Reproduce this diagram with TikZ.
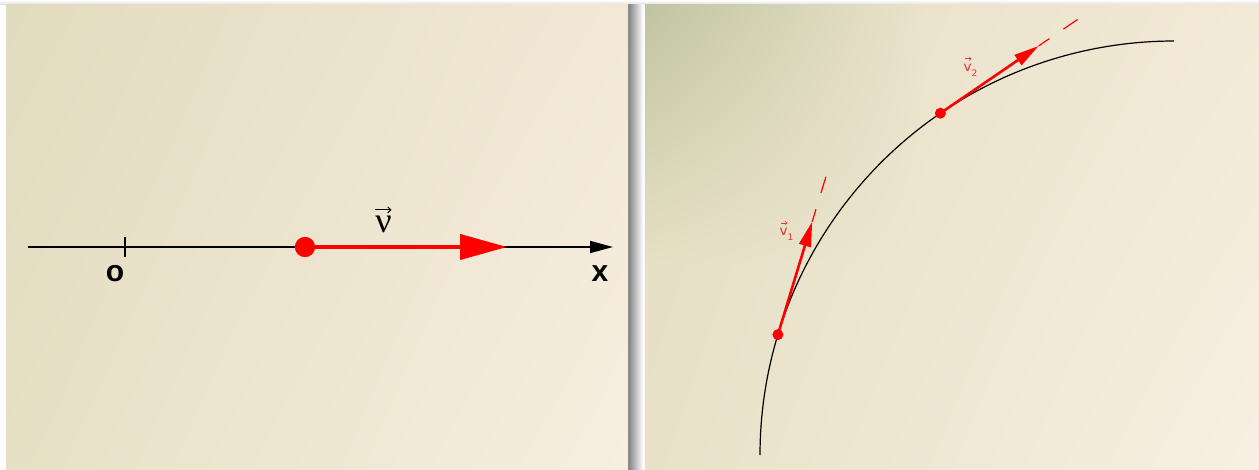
\documentclass[tikz,border=0pt]{standalone}
\usepackage{fontspec}
\setmainfont{Liberation Serif}
\newfontfamily\lblfont{DejaVu Sans}
\newfontfamily\axfont{Liberation Sans}
\usetikzlibrary{arrows.meta,shadings,calc}
\definecolor{vred}{RGB}{255,0,0}
\definecolor{lred}{RGB}{238,48,48}
\definecolor{lpUL}{HTML}{E1DBBF}
\definecolor{lpUR}{HTML}{F3E8D6}
\definecolor{lpLL}{HTML}{E7E0C5}
\definecolor{lpLR}{HTML}{F8EEE0}
\definecolor{rpUL}{HTML}{E4DEC2}
\definecolor{rpUR}{HTML}{F3E9D7}
\definecolor{rpLL}{HTML}{E8E1C7}
\definecolor{rpLR}{HTML}{F9EFE2}
\definecolor{rpGreen}{HTML}{C0C4A2}
% colours of the base right-panel shading at the corners of the green patch
% patch: x 645..925 (fraction 280/614=0.456), y 5..265 (fraction 260/465=0.56)
\colorlet{gA}{rpUR!46!rpUL}
\colorlet{gB}{rpLL!56!rpUL}
\colorlet{gD}{rpLR!46!rpLL}
\colorlet{gC}{gD!56!gA}
\begin{document}
\begin{tikzpicture}[x=1pt,y=-1pt,
  axisline/.style={line width=1.6pt, black},
  axislabel/.style={font=\axfont\bfseries\fontsize{30}{30}\selectfont, inner sep=0pt},
  reddot/.style={circle, fill=vred, inner sep=0pt},
  redvec/.style={draw=vred, line width=2.6pt, -{Triangle[length=25pt,width=12pt]}},
  tangentdash/.style={draw=vred, line width=1.2pt, dash pattern=on 13pt off 17pt on 17pt off 60pt},
  vlabel/.style={text=lred, font=\lblfont\fontsize{13.5}{13.5}\selectfont, inner sep=0pt, anchor=base west},
  bigvecarrow/.style={line width=1pt, black, -{Straight Barb[length=3pt,width=6pt]}},
  smallvecarrow/.style={line width=0.6pt, lred, -{Straight Barb[length=1.6pt,width=3.2pt]}}]
\useasboundingbox (0,0) rectangle (1259,470);
\fill[white] (0,0) rectangle (1259,470);
% shadows
\shade[top color=white, bottom color=black!14] (0,0) rectangle (1259,5);
\shade[left color=black!50, right color=white] (628,5) rectangle (643,470);
% panels
\shade[upper left=lpUL, upper right=lpUR, lower left=lpLL, lower right=lpLR] (6,5) rectangle (628,470);
\shade[upper left=rpUL, upper right=rpUR, lower left=rpLL, lower right=rpLR] (645,5) rectangle (1259,470);
\shade[upper left=rpGreen, upper right=gA, lower left=gB, lower right=gC] (645,5) rectangle (925,265);

% ---------- left panel ----------
\coordinate (ax0) at (28,247);
\coordinate (ax1) at (613,247);
\draw[axisline, -{Triangle[length=23pt,width=12pt]}] (ax0) -- (ax1);
\coordinate (tk0) at (125,237);
\coordinate (tk1) at (125,257);
\draw[axisline] (tk0) -- (tk1);
\node[axislabel] (olab) at (115,274) {o};
\node[axislabel] (xlab) at (600,274) {x};
\node[reddot, minimum size=20pt] (p) at (305,247) {};
\coordinate (vtip) at (507,247);
\draw[draw=vred, line width=4pt, -{Triangle[length=47pt,width=25pt]}] (p.center) -- (vtip);
\node[reddot, minimum size=20pt] at (p) {};
\node[inner sep=0pt, font=\fontsize{36}{36}\selectfont] (vlab) at (383.5,224) {ν};
\draw[bigvecarrow] ($(vlab.north)+(-8.5,-5.5)$) -- ($(vlab.north)+(8,-5.5)$);

% ---------- right panel ----------
\draw[line width=1.2pt, black] plot[domain=90:180, samples=90] ({1174+414*cos(\x)},{455-414*sin(\x)});
\coordinate (t1) at (812.2,221.7);
\coordinate (e1) at (826.2,175.8);
\coordinate (t2) at (1038.6,46.0);
\coordinate (e2) at (1077.5,19.5);
\node[reddot, minimum size=11pt] (p1) at (777.9,334.6) {};
\node[reddot, minimum size=11pt] (p2) at (940.4,113.2) {};
\draw[tangentdash] (t1) -- (e1);
\draw[tangentdash] (t2) -- (e2);
\draw[redvec] (p1.center) -- (t1);
\draw[redvec] (p2.center) -- (t2);
\node[vlabel] (v1) at (779.5,236) {v\raisebox{-4.5pt}{\fontsize{9}{9}\selectfont 1}};
\draw[smallvecarrow] ($(v1.base west)+(1.5,-13)$) -- ($(v1.base west)+(7.8,-13)$);
\node[vlabel] (v2) at (963.5,71.7) {v\raisebox{-4.5pt}{\fontsize{9}{9}\selectfont 2}};
\draw[smallvecarrow] ($(v2.base west)+(1.5,-13)$) -- ($(v2.base west)+(7.8,-13)$);
\end{tikzpicture}
\end{document}
